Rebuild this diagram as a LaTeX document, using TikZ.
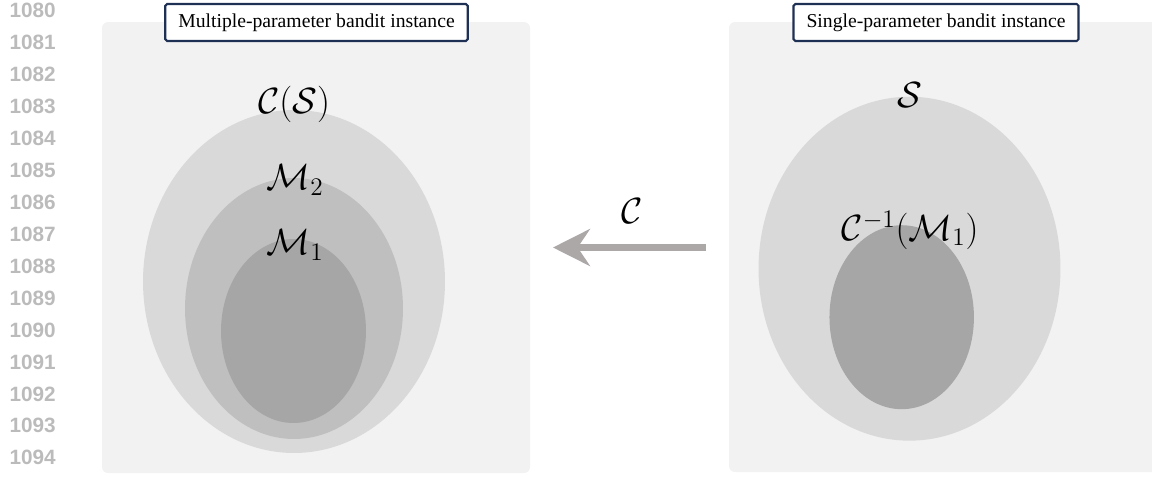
\documentclass[tikz,border=0pt]{standalone}
\usepackage{fontspec}
\newfontfamily\titlefont{Liberation Serif}
\newfontfamily\numfont{Liberation Sans}
\usetikzlibrary{shapes.geometric,arrows.meta}

\definecolor{panelbg}{RGB}{242,242,242}
\definecolor{setA}{RGB}{217,217,217}
\definecolor{setB}{RGB}{191,191,191}
\definecolor{setC}{RGB}{166,166,166}
\definecolor{framenavy}{RGB}{31,48,85}
\definecolor{arrowgray}{RGB}{172,168,168}
\definecolor{linenum}{RGB}{187,187,187}

\tikzset{
  panel/.style={fill=panelbg, rounded corners=0.12cm},
  region/.style={ellipse, draw=none, inner sep=0pt},
  titlebox/.style={draw=framenavy, line width=1.2pt, fill=white, rounded corners=1pt,
    inner xsep=0.26cm, minimum height=0.74cm, font=\titlefont\fontsize{11.2}{13}\selectfont},
  setlabel/.style={inner sep=0pt, font=\fontsize{20.8}{25}\selectfont},
  lineno/.style={anchor=east, inner sep=0pt, text=linenum, font=\numfont\bfseries\fontsize{11.8}{13}\selectfont},
  maparrow/.style={draw=arrowgray, line width=4.25pt,
    -{Stealth[length=21pt, width=21pt, inset=7pt, fill=arrowgray]}}
}

\begin{document}
\begin{tikzpicture}[x=0.02cm, y=-0.02cm]
  \useasboundingbox (0,0) rectangle (1152,477);
  \clip (0,0) rectangle (1152,477);

  % line numbers in the margin
  \foreach \i in {0,...,14} {
    \pgfmathtruncatemacro\num{1080+\i}
    \node[lineno] (ln\i) at (56, 10.5+31.95*\i) {\num};
  }

  % the two panels
  \fill[panel] (102,22) rectangle (530,473);
  \fill[panel] (729,22) rectangle (1175,472);

  % multiple-parameter side: nested sets
  \node[region, fill=setA, minimum width=6.04cm, minimum height=6.86cm] (CS) at (294,281.5) {};
  \node[region, fill=setB, minimum width=4.36cm, minimum height=5.22cm] (M2) at (294,308.5) {};
  \node[region, fill=setC, minimum width=2.90cm, minimum height=3.68cm] (M1) at (293.5,331) {};

  \node[setlabel] (lCS) at (294,104) {$\mathcal{C}(\mathcal{S})$};
  \node[setlabel] (lM2) at (295,180) {$\mathcal{M}_2$};
  \node[setlabel] (lM1) at (295,245) {$\mathcal{M}_1$};

  % single-parameter side
  \node[region, fill=setA, minimum width=6.04cm, minimum height=6.88cm] (S) at (909.5,268.7) {};
  \node[region, fill=setC, minimum width=2.89cm, minimum height=3.68cm] (CinvM1) at (901.7,317.2) {};

  \node[setlabel] (lS) at (910,95) {$\mathcal{S}$};
  \node[setlabel] (lCinv) at (910,230) {$\mathcal{C}^{-1}(\mathcal{M}_1)$};

  % the map between the instances
  \coordinate (mapfrom) at (706,247.5);
  \coordinate (mapto) at (553,247.5);
  \draw[maparrow] (mapfrom) -- (mapto);
  \node[setlabel] (lmap) at (632,211) {$\mathcal{C}$};

  % panel titles
  \node[titlebox] (tMulti) at (316.5,22.5) {Multiple-parameter bandit instance};
  \node[titlebox] (tSingle) at (936,22.5) {Single-parameter bandit instance};
\end{tikzpicture}
\end{document}
